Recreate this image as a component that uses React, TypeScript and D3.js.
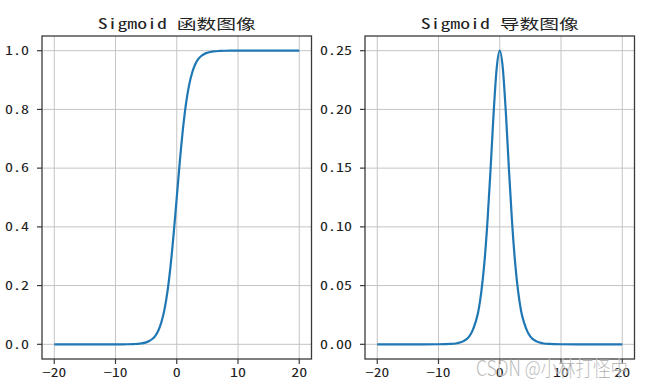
import React from "react";
import * as d3 from "d3";

const xs = [-20, -15, -10, -8, -7, -6, -5, -4.5, -4, -3.5, -3, -2.5, -2, -1.5, -1, -0.5, 0, 0.5, 1, 1.5, 2, 2.5, 3, 3.5, 4, 4.5, 5, 6, 7, 8, 10, 15, 20];
const sigmoidValues = [0.0, 0.0, 0.00005, 0.0003, 0.0009, 0.0025, 0.0067, 0.011, 0.018, 0.029, 0.047, 0.076, 0.119, 0.182, 0.269, 0.378, 0.5, 0.622, 0.731, 0.818, 0.881, 0.924, 0.953, 0.971, 0.982, 0.989, 0.993, 0.9975, 0.9991, 0.9997, 1.0, 1.0, 1.0];
const derivativeValues = [0.0, 0.0, 0.00005, 0.0003, 0.0009, 0.0025, 0.0066, 0.011, 0.018, 0.028, 0.045, 0.07, 0.105, 0.149, 0.197, 0.235, 0.25, 0.235, 0.197, 0.149, 0.105, 0.07, 0.045, 0.028, 0.018, 0.011, 0.0066, 0.0025, 0.0009, 0.0003, 0.00005, 0.0, 0.0];

const xTicks = [-20, -10, 0, 10, 20];
const leftYTicks = [0.0, 0.2, 0.4, 0.6, 0.8, 1.0];
const leftYLabels = ["0.0", "0.2", "0.4", "0.6", "0.8", "1.0"];
const rightYTicks = [0.0, 0.05, 0.1, 0.15, 0.2, 0.25];
const rightYLabels = ["0.00", "0.05", "0.10", "0.15", "0.20", "0.25"];
const titles = ["Sigmoid 函数图像", "Sigmoid 导数图像"];
const watermark = "CSDN @小林打怪中";

const FONT = "'Noto Sans Mono CJK SC', 'Noto Sans CJK SC', 'DejaVu Sans', sans-serif";
const CHAR_W = 8;

type PanelProps = {
  x0: number;
  x1: number;
  yDomain: [number, number];
  values: number[];
  yTicks: number[];
  yLabels: string[];
  title: string;
};

const TOP = 36;
const BOTTOM = 359;

function Panel({ x0, x1, yDomain, values, yTicks, yLabels, title }: PanelProps) {
  const x = d3.scaleLinear().domain([-22, 22]).range([x0, x1]);
  const y = d3.scaleLinear().domain(yDomain).range([BOTTOM, TOP]);
  const line = d3
    .line<number>()
    .x((_, i) => x(xs[i]))
    .y((d) => y(d))
    .curve(d3.curveMonotoneX);
  const cx = (x0 + x1) / 2;
  return (
    <g>
      {xTicks.map((t) => (
        <line key={"gx" + t} x1={x(t)} x2={x(t)} y1={TOP} y2={BOTTOM} stroke="#c4c4c4" strokeWidth={1} />
      ))}
      {yTicks.map((t) => (
        <line key={"gy" + t} x1={x0} x2={x1} y1={y(t)} y2={y(t)} stroke="#c4c4c4" strokeWidth={1} />
      ))}
      <path d={line(values) || ""} fill="none" stroke="#1f77b4" strokeWidth={2.2} />
      <rect x={x0} y={TOP} width={x1 - x0} height={BOTTOM - TOP} fill="none" stroke="#3a3a3a" strokeWidth={1.3} />
      {xTicks.map((t) => {
        const lbl = t < 0 ? "\u2212" + Math.abs(t) : String(t);
        return (
          <g key={"tx" + t}>
            <line x1={x(t)} x2={x(t)} y1={BOTTOM} y2={BOTTOM + 5} stroke="#3a3a3a" strokeWidth={1.2} />
            <text
              x={x(t)}
              y={377}
              textAnchor="middle"
              fontFamily={FONT}
              fontSize={12}
              fontWeight={500}
              fill="#222"
              textLength={lbl.length * CHAR_W}
              lengthAdjust="spacingAndGlyphs"
            >
              {lbl}
            </text>
          </g>
        );
      })}
      {yTicks.map((t, i) => (
        <g key={"ty" + t}>
          <line x1={x0 - 5} x2={x0} y1={y(t)} y2={y(t)} stroke="#3a3a3a" strokeWidth={1.2} />
          <text
            x={x0 - 13}
            y={y(t) + 4.2}
            textAnchor="end"
            fontFamily={FONT}
            fontSize={12}
            fontWeight={500}
            fill="#222"
            textLength={yLabels[i].length * CHAR_W}
            lengthAdjust="spacingAndGlyphs"
          >
            {yLabels[i]}
          </text>
        </g>
      ))}
      <text
        x={cx}
        y={29}
        textAnchor="middle"
        fontFamily={FONT}
        fontSize={14}
        fontWeight={500}
        fill="#222"
        textLength={158}
        lengthAdjust="spacingAndGlyphs"
      >
        {title}
      </text>
    </g>
  );
}

export default function App() {
  return (
    <svg
      width={661}
      height={387}
      style={{ position: "absolute", left: 0, top: 0, background: "#fff" }}
    >
      <rect width={661} height={387} fill="#fff" />
      <Panel x0={42} x1={311.5} yDomain={[-0.05, 1.05]} values={sigmoidValues} yTicks={leftYTicks} yLabels={leftYLabels} title={titles[0]} />
      <Panel x0={365} x1={634.5} yDomain={[-0.0125, 0.2625]} values={derivativeValues} yTicks={rightYTicks} yLabels={rightYLabels} title={titles[1]} />
      <text
        x={476}
        y={376}
        fontFamily="'Noto Sans CJK SC', sans-serif"
        fontSize={21}
        fontWeight={300}
        fill="#8c8c8c"
        fillOpacity={0.85}
        stroke="#fff"
        strokeWidth={0.6}
        strokeOpacity={0.5}
        textLength={152}
        lengthAdjust="spacingAndGlyphs"
      >
        {watermark}
      </text>
    </svg>
  );
}
